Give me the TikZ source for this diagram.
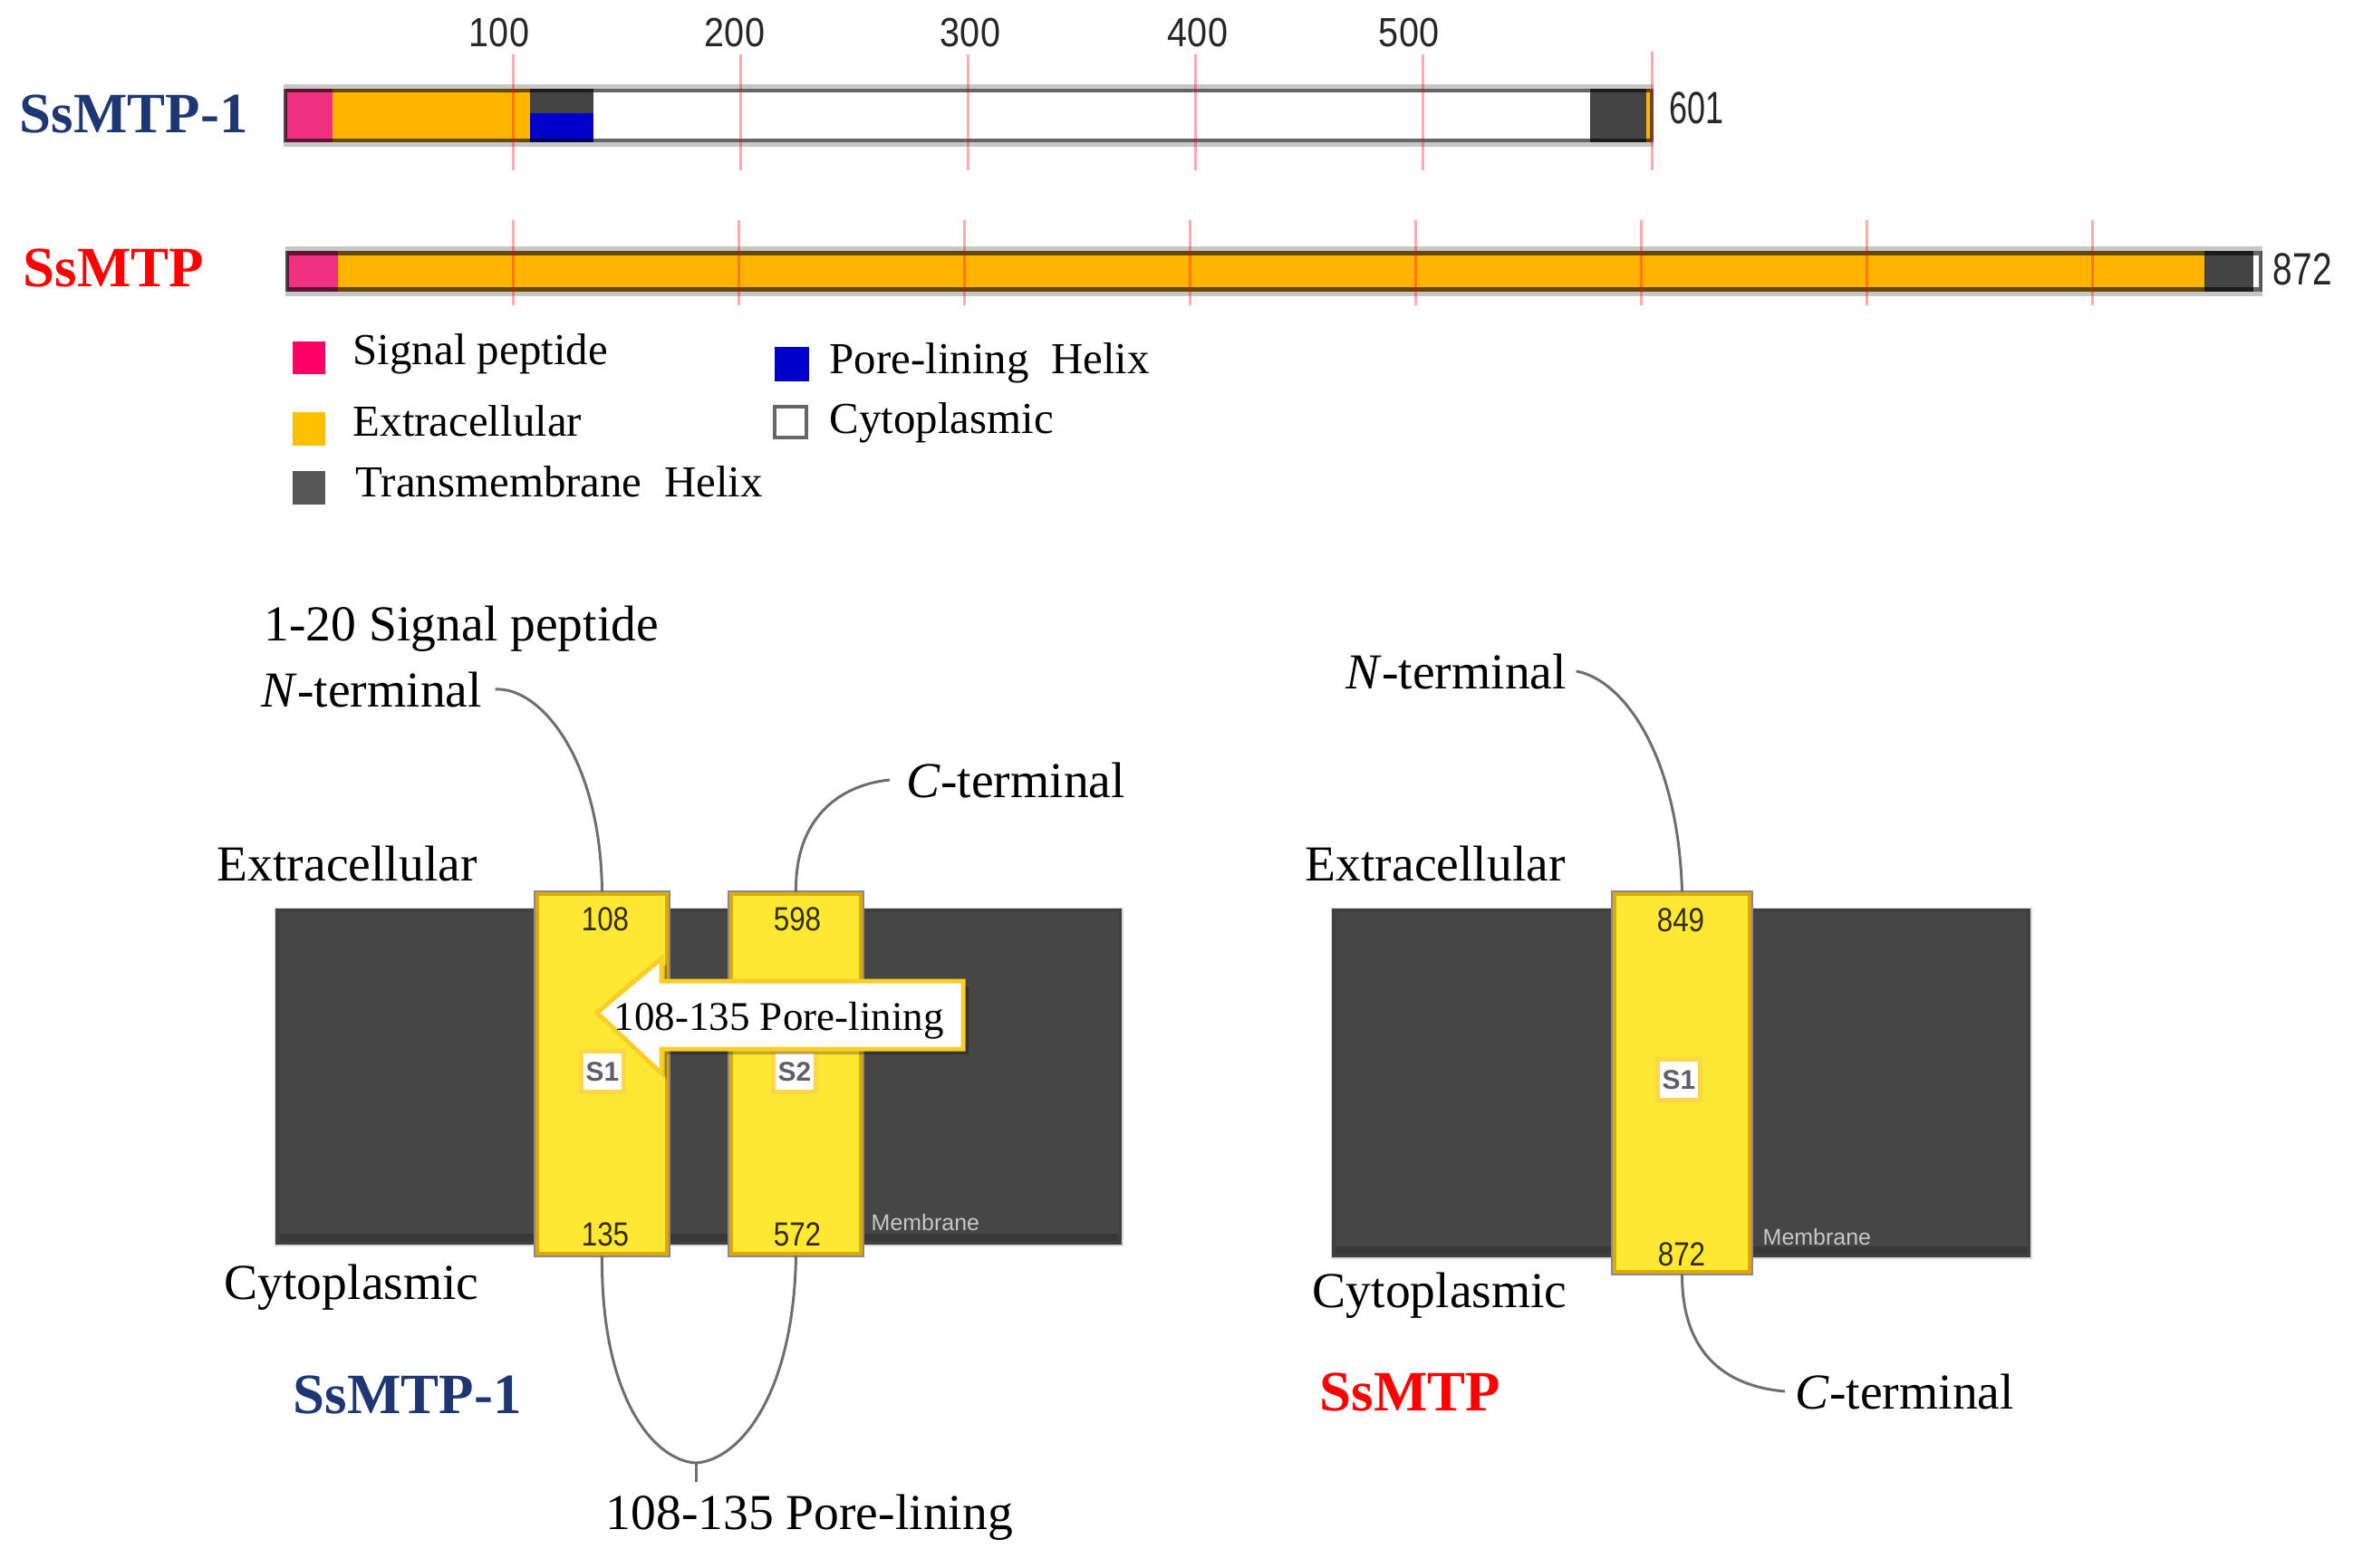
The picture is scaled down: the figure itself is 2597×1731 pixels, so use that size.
\documentclass[tikz,border=0pt]{standalone}
\usepackage{fontspec}
\usepackage{graphicx}
\setmainfont{Liberation Serif}
\setsansfont{Liberation Sans}
\newcommand{\cnd}[2]{\scalebox{#1}[1]{#2}}
\definecolor{sigpink}{RGB}{240,48,128}
\definecolor{legpink}{RGB}{255,0,102}
\definecolor{extorg}{RGB}{255,180,0}
\definecolor{legorg}{RGB}{255,192,0}
\definecolor{tmdark}{RGB}{68,68,68}
\definecolor{poreblue}{RGB}{0,0,204}
\definecolor{navy}{RGB}{30,55,115}
\definecolor{hyellow}{RGB}{255,232,50}
\definecolor{hgold}{RGB}{222,170,0}
\definecolor{hgray}{RGB}{135,138,150}
\definecolor{memfill}{RGB}{70,70,70}
\definecolor{curvec}{RGB}{110,110,110}
\definecolor{sborder}{RGB}{255,215,70}
\definecolor{stext}{RGB}{95,95,105}
\definecolor{callb}{RGB}{250,205,40}
\definecolor{numc}{RGB}{50,45,20}
\begin{document}
\begin{tikzpicture}[x=0.01cm,y=-0.01cm,
  lab/.style={font=\fontsize{15.8}{18}\selectfont, inner sep=0pt, anchor=base west},
  ttl/.style={font=\fontsize{17.9}{20}\selectfont\bfseries, inner sep=0pt, anchor=base west},
  leg/.style={font=\fontsize{13.9}{16}\selectfont, inner sep=0pt, anchor=base west},
  rul/.style={font=\sffamily\fontsize{12.8}{14}\selectfont, text=black!85, inner sep=0pt, anchor=base},
  endlab/.style={font=\sffamily\fontsize{14.2}{16}\selectfont, text=black!85, inner sep=0pt, anchor=base west},
  hnum/.style={font=\sffamily\fontsize{10.5}{12}\selectfont, text=numc, inner sep=0pt, anchor=base},
  sbox/.style={fill=white, draw=sborder, line width=0.05cm, minimum width=0.47cm, minimum height=0.45cm, inner sep=0pt, font=\sffamily\bfseries\fontsize{8.5}{10}\selectfont, text=stext},
  memtxt/.style={font=\sffamily\fontsize{7.1}{8}\selectfont, text=black!22, inner sep=0pt, anchor=base west},
  helix/.style={fill=hyellow, draw=hgold, line width=0.04cm, preaction={draw=hgray, line width=0.08cm}, inner sep=0pt},
  conn/.style={draw=curvec, line width=0.03cm},
  rline/.style={red, opacity=.33, line width=0.03cm},
  memb/.style={fill=memfill, draw=black!75, line width=0.04cm, preaction={draw=gray!30, line width=0.07cm}},
]
\useasboundingbox (0,0) rectangle (2597,1731);

% ---------------- top bars ----------------
\node[ttl, text=navy] (t1) at (21,147) {SsMTP-1};
\node[ttl, text=red] (t2) at (25,317) {SsMTP};

\node[rul] (r100) at (551,52) {\cnd{.88}{100}};
\node[rul] (r200) at (811,52) {\cnd{.88}{200}};
\node[rul] (r300) at (1071,52) {\cnd{.88}{300}};
\node[rul] (r400) at (1322,52) {\cnd{.88}{400}};
\node[rul] (r500) at (1555,52) {\cnd{.88}{500}};

% SsMTP-1 bar
\fill[gray!45] (313,93) rectangle (1825,162);
\fill[sigpink] (315,98) rectangle (367,157);
\fill[extorg] (367,98) rectangle (585,157);
\fill[tmdark] (585,98) rectangle (655,125);
\fill[poreblue] (585,125) rectangle (655,157);
\fill[white] (655,98) rectangle (1755,157);
\fill[tmdark] (1755,98) rectangle (1817,157);
\fill[extorg] (1817,98) rectangle (1823,157);
\draw[black, opacity=.6, line width=0.04cm] (315,100) rectangle (1823,155);
\foreach \k in {1,...,5} {\draw[rline] ({315+251*\k},60) -- ({315+251*\k},188);}
\draw[rline] (1823,57) -- (1823,188);
\node[endlab] (e601) at (1842,137) {\cnd{.72}{601}};

% SsMTP bar
\fill[gray!45] (315,272) rectangle (2497,327);
\fill[sigpink] (317,277) rectangle (373,322);
\fill[extorg] (373,277) rectangle (2433,322);
\fill[tmdark] (2433,277) rectangle (2487,322);
\fill[white] (2487,277) rectangle (2495,322);
\draw[black, opacity=.6, line width=0.045cm] (317,279.5) rectangle (2495,319.5);
\foreach \k in {1,...,8} {\draw[rline] ({317+249*\k},243) -- ({317+249*\k},337);}
\node[endlab] (e872) at (2508,315) {\cnd{.78}{872}};

% ---------------- legend ----------------
\fill[legpink] (323,377) rectangle (359,413);
\fill[legorg] (323,455) rectangle (359,492);
\fill[tmdark!90] (323,520) rectangle (359,557);
\fill[poreblue] (855,383) rectangle (893,421);
\draw[fill=white, draw=black!60, line width=0.045cm] (855,449) rectangle (890,483);
\node[leg] (lg1) at (389,403) {Signal peptide};
\node[leg] (lg2) at (389,482) {Extracellular};
\node[leg] (lg3) at (392,549) {Transmembrane\ \ Helix};
\node[leg] (lg4) at (915,413) {Pore-lining\ \ Helix};
\node[leg] (lg5) at (915,479) {Cytoplasmic};

% ---------------- left topology (SsMTP-1) ----------------
\draw[memb] (306,1005) rectangle (1236,1372);
\fill[black!78] (308,1362) rectangle (1234,1370);
\node[memtxt] (memL) at (961,1358) {Membrane};

\node[helix, minimum width=1.43cm, minimum height=3.97cm] (h1) at (664.5,1185.5) {};
\node[helix, minimum width=1.43cm, minimum height=3.97cm] (h2) at (878.5,1185.5) {};
\node[hnum] (n108) at (668,1027) {\cnd{.85}{108}};
\node[hnum] (n135) at (668,1375) {\cnd{.85}{135}};
\node[hnum] (n598) at (880,1027) {\cnd{.85}{598}};
\node[hnum] (n572) at (880,1375) {\cnd{.85}{572}};
\node[sbox] (s1L) at (665,1183) {S1};
\node[sbox] (s2L) at (877,1183) {S2};

% callout arrow
\fill[black, opacity=.25] (665,1124) -- (736,1064) -- (736,1089) -- (1069,1089) -- (1069,1164) -- (736,1164) -- (736,1191) -- cycle;
\draw[fill=white, draw=callb, line width=0.05cm] (659,1118) -- (730,1058) -- (730,1083) -- (1063,1083) -- (1063,1158) -- (730,1158) -- (730,1185) -- cycle;
\node[font=\fontsize{12.8}{14}\selectfont, inner sep=0pt, anchor=base west] (callout) at (677,1137) {108-135 Pore-lining};

\node[lab] (sigL) at (291,708) {1-20 Signal peptide};
\node[lab] (nL) at (288,780) {\textit{N}-terminal};
\node[lab] (cL) at (1000,880) {\textit{C}-terminal};
\node[lab] (exL) at (239,972) {Extracellular};
\node[lab] (cyL) at (247,1434) {Cytoplasmic};
\node[ttl, text=navy] (t1b) at (323,1560) {SsMTP-1};
\node[lab] (poreB) at (668,1688) {108-135 Pore-lining};

\draw[conn] ([xshift=0.14cm]nL.east) .. controls (595,758) and (663,835) .. (h1.north);
\draw[conn] ([xshift=-0.18cm]cL.west) .. controls (930,866) and (877,900) .. (h2.north);
\coordinate (loopB) at (768,1615);
\draw[conn] (h1.south) .. controls (663,1540) and (720,1612) .. (loopB);
\draw[conn] (h2.south) .. controls (876,1540) and (816,1612) .. (loopB);
\draw[conn] (loopB) -- ([yshift=0.13cm]poreB.north -| loopB);

% ---------------- right topology (SsMTP) ----------------
\draw[memb] (1472,1005) rectangle (2239,1386);
\fill[black!78] (1474,1376) rectangle (2237,1384);
\node[memtxt] (memR) at (1945,1374) {Membrane};

\node[helix, minimum width=1.49cm, minimum height=4.17cm] (hR) at (1856.5,1195.5) {};
\node[hnum] (n849) at (1855,1028) {\cnd{.85}{849}};
\node[hnum] (n872) at (1856,1397) {\cnd{.85}{872}};
\node[sbox] (s1R) at (1853,1192) {S1};

\node[lab] (nR) at (1485,760) {\textit{N}-terminal};
\node[lab] (exR) at (1440,972) {Extracellular};
\node[lab] (cyR) at (1448,1443) {Cytoplasmic};
\node[ttl, text=red] (t2b) at (1456,1557) {SsMTP};
\node[lab] (cR) at (1981,1555) {\textit{C}-terminal};

\draw[conn] ([xshift=0.1cm]nR.east) .. controls (1790,750) and (1852,830) .. (hR.north);
\draw[conn] (hR.south) .. controls (1856,1490) and (1900,1530) .. ([xshift=-0.11cm]cR.west);
\end{tikzpicture}
\end{document}
